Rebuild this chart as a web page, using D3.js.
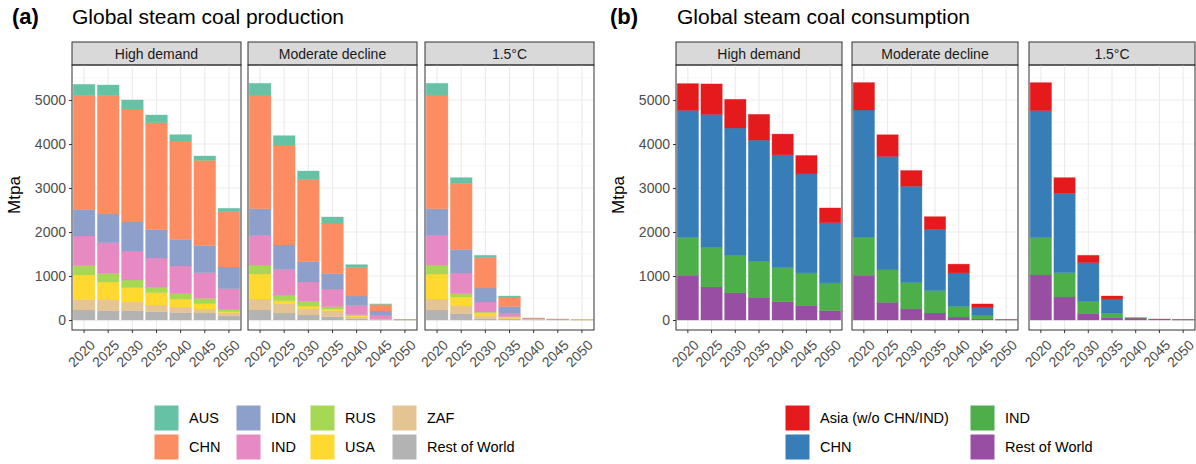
<!DOCTYPE html>
<html>
<head>
<meta charset="utf-8">
<script src="https://cdn.jsdelivr.net/npm/d3@7"></script>
<style>
  body { margin: 0; background: #fff; font-family: "Liberation Sans", Arial, sans-serif; }
</style>
</head>
<body>
<svg id="chart" width="1196" height="464"></svg>
<script>
const years = [2020, 2025, 2030, 2035, 2040, 2045, 2050]
const scenarios = ['High demand', 'Moderate decline', '1.5°C']
const yTicks = [0, 1000, 2000, 3000, 4000, 5000]

// production, stacked bottom to top
const prodKeys = ['Rest of World', 'ZAF', 'USA', 'RUS', 'IND', 'IDN', 'CHN', 'AUS']
const prodColors = ['#b3b3b3', '#e5c494', '#ffd92f', '#a6d854', '#e78ac3', '#8da0cb', '#fc8d62', '#66c2a5']
const prodHigh = [
  [227, 243, 553, 212, 674, 606, 2583, 258],
  [212, 243, 409, 197, 697, 651, 2689, 243],
  [212, 197, 326, 174, 659, 659, 2568, 205],
  [189, 152, 280, 129, 659, 644, 2432, 174],
  [167, 128, 182, 121, 629, 606, 2235, 144],
  [159, 91, 121, 121, 584, 613, 1940, 98],
  [91, 76, 22, 61, 462, 493, 1257, 76]
]
const prodModerate = [
  [227, 250, 568, 205, 667, 613, 2584, 265],
  [159, 220, 60, 129, 584, 553, 2272, 212],
  [114, 144, 60, 106, 440, 462, 1871, 189],
  [76, 136, 38, 53, 402, 348, 1152, 136],
  [30, 46, 22, 23, 212, 212, 652, 61],
  [5, 10, 2, 5, 78, 105, 150, 10],
  [1, 2, 0, 3, 2, 1, 1, 0]
]
const prod15 = [
  [227, 250, 568, 205, 667, 613, 2584, 265],
  [144, 174, 205, 75, 470, 538, 1500, 129],
  [30, 61, 76, 15, 227, 318, 690, 53],
  [23, 15, 30, 8, 68, 159, 220, 22],
  [10, 8, 5, 2, 8, 7, 5, 0],
  [5, 4, 2, 1, 3, 3, 2, 0],
  [2, 2, 1, 2, 1, 0, 0, 0]
]

// consumption, stacked bottom to top
const consKeys = ['Rest of World', 'IND', 'CHN', 'Asia (w/o CHN/IND)']
const consColors = ['#984ea3', '#4daf4a', '#377eb8', '#e41a1c']
const consHigh = [
  [1018, 859, 2887, 608],
  [752, 905, 3016, 692],
  [616, 851, 2895, 653],
  [517, 820, 2751, 585],
  [418, 775, 2561, 471],
  [334, 737, 2250, 418],
  [213, 630, 1368, 335]
]
const consModerate = [
  [1018, 866, 2888, 623],
  [403, 737, 2576, 494],
  [251, 600, 2189, 357],
  [160, 509, 1390, 289],
  [68, 244, 759, 198],
  [23, 76, 182, 84],
  [4, 2, 1, 1]
]
const cons15 = [
  [1023, 849, 2886, 636],
  [523, 553, 1804, 355],
  [152, 272, 879, 167],
  [61, 91, 327, 66],
  [30, 8, 5, 7],
  [10, 4, 3, 3],
  [5, 1, 1, 1]
]

const svg = d3.select('#chart')
const y = d3.scaleLinear().domain([-227, 5795]).range([330, 65])

let drawPanelGroup = (opts) => {
  let g = svg.append('g')
  g.append('text').attr('x', opts.labelX).attr('y', 24)
    .attr('font-size', 22).attr('font-weight', 'bold').text(opts.label)
  g.append('text').attr('x', opts.titleX).attr('y', 24)
    .attr('font-size', 21).text(opts.title)

  // y axis
  let ax = g.append('g').attr('transform', `translate(${opts.panelX[0]},0)`)
    .call(d3.axisLeft(y).tickValues(yTicks).tickSize(3).tickFormat(d3.format('d')))
  ax.select('.domain').remove()
  ax.selectAll('line').attr('stroke', '#333')
  ax.selectAll('text').attr('font-size', 14).attr('fill', '#4d4d4d')
    .attr('font-family', '"Liberation Sans", Arial, sans-serif')
  g.append('text').attr('transform', `translate(${opts.panelX[0] - 52},195) rotate(-90)`)
    .attr('text-anchor', 'middle').attr('font-size', 17).text('Mtpa')

  opts.data.forEach((rows, i) => {
    let x0 = opts.panelX[i]
    let w = opts.panelW
    let x = d3.scaleBand().domain(years).range([x0, x0 + w]).paddingInner(0.1).paddingOuter(0.05)
    let p = g.append('g')
    // strip
    p.append('rect').attr('x', x0).attr('y', 42).attr('width', w).attr('height', 23)
      .attr('fill', '#d9d9d9').attr('stroke', '#333').attr('stroke-width', 1)
    p.append('text').attr('x', x0 + w / 2).attr('y', 59).attr('text-anchor', 'middle')
      .attr('font-size', 14).attr('fill', '#1a1a1a').text(scenarios[i])
    // grid
    let minor = d3.range(500, 5800, 1000)
    p.selectAll('.gmin').data(minor).join('line')
      .attr('x1', x0).attr('x2', x0 + w).attr('y1', d => y(d)).attr('y2', d => y(d))
      .attr('stroke', '#f2f2f2').attr('stroke-width', 0.6)
    p.selectAll('.gmaj').data(yTicks).join('line')
      .attr('x1', x0).attr('x2', x0 + w).attr('y1', d => y(d)).attr('y2', d => y(d))
      .attr('stroke', '#ebebeb').attr('stroke-width', 1.1)
    p.selectAll('.gx').data(years).join('line')
      .attr('x1', d => x(d) + x.bandwidth() / 2).attr('x2', d => x(d) + x.bandwidth() / 2)
      .attr('y1', 65).attr('y2', 330).attr('stroke', '#ebebeb').attr('stroke-width', 1.1)
    // bars
    let table = rows.map((r, j) => {
      let o = {year: years[j]}
      opts.keys.forEach((k, ki) => { o[k] = r[ki] })
      return o
    })
    let stack = d3.stack().keys(opts.keys)(table)
    stack.forEach((layer, li) => {
      p.selectAll(null).data(layer).join('rect')
        .attr('x', d => x(d.data.year)).attr('width', x.bandwidth())
        .attr('y', d => y(d[1])).attr('height', d => Math.max(0, y(d[0]) - y(d[1])))
        .attr('fill', opts.colors[li]).attr('stroke', opts.colors[li])
        .attr('stroke-opacity', 0.4).attr('stroke-width', 0.8)
    })
    // frame
    p.append('rect').attr('x', x0).attr('y', 65).attr('width', w).attr('height', 265)
      .attr('fill', 'none').attr('stroke', '#333').attr('stroke-width', 1)
    // x labels
    p.selectAll('.xl').data(years).join('text')
      .attr('transform', d => `translate(${x(d) + x.bandwidth() / 2 + 5},339) rotate(-45)`)
      .attr('text-anchor', 'end').attr('dy', '0.7em')
      .attr('font-size', 14).attr('fill', '#4d4d4d').text(d => d)
    p.selectAll('.xt').data(years).join('line')
      .attr('x1', d => x(d) + x.bandwidth() / 2).attr('x2', d => x(d) + x.bandwidth() / 2)
      .attr('y1', 330).attr('y2', 333).attr('stroke', '#333')
  })

  // legend
  let lg = g.append('g')
  opts.legend.forEach((it) => {
    let gi = lg.append('g').attr('transform', `translate(${it[1]},${it[2]})`)
    gi.append('rect').attr('width', 25).attr('height', 26).attr('fill', opts.colors[it[0]])
      .attr('stroke', '#fff').attr('stroke-width', 1)
    gi.append('text').attr('x', 35).attr('y', 18).attr('font-size', 14.5).text(opts.keys[it[0]])
  })
}

drawPanelGroup({
  label: '(a)', labelX: 12, title: 'Global steam coal production', titleX: 72,
  panelX: [72, 248, 425], panelW: 169,
  data: [prodHigh, prodModerate, prod15], keys: prodKeys, colors: prodColors,
  // [key index, x, y]
  legend: [[7, 154, 405], [6, 154, 434], [5, 236, 405], [4, 236, 434],
           [3, 310, 405], [2, 310, 434], [1, 392, 405], [0, 392, 434]]
})

drawPanelGroup({
  label: '(b)', labelX: 610, title: 'Global steam coal consumption', titleX: 677,
  panelX: [676, 852, 1029], panelW: 166,
  data: [consHigh, consModerate, cons15], keys: consKeys, colors: consColors,
  legend: [[3, 785, 405], [2, 785, 434], [1, 970, 405], [0, 970, 434]]
})
</script>
</body>
</html>
